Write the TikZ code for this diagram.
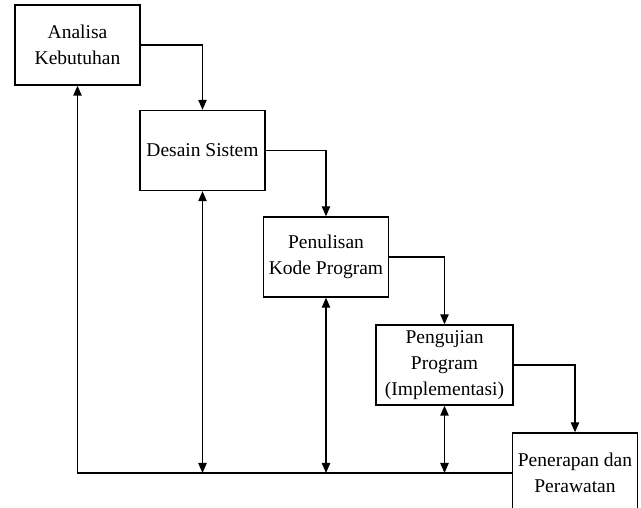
\documentclass[tikz,border=0pt]{standalone}
\usepackage{fontspec}
\setmainfont{Liberation Serif}
\usetikzlibrary{arrows.meta,positioning,calc}

\begin{document}
\begin{tikzpicture}[x=0.6pt, y=-0.6pt, line width=0.8pt,
  tahap/.style={draw, inner sep=1pt, minimum width=75pt, minimum height=48pt,
    align=center, font=\fontsize{11.7}{15.5}\selectfont},
  panah/.style={-{Triangle[length=6pt,width=5pt]}},
  duapanah/.style={{Triangle[length=6pt,width=5pt]}-{Triangle[length=6pt,width=5pt]}}]
  \clip (0,0) rectangle (641,508);
  % tahapan waterfall
  \node[tahap] (analisa) at (77.5,45) {Analisa\\Kebutuhan};
  \node[tahap] (desain) at (202.5,150.5) {Desain Sistem};
  \node[tahap] (kode) at (326,257) {Penulisan\\Kode Program};
  \node[tahap, minimum width=82.2pt] (uji) at (444.5,365) {Pengujian\\Program\\(Implementasi)};
  \node[tahap] (rawat) at (575,473) {Penerapan dan\\Perawatan};
  % alur maju
  \draw[panah] (analisa.east) -| (desain.north);
  \draw[panah] (desain.east) -| (kode.north);
  \draw[panah] (kode.east) -| (uji.north);
  \draw[panah] (uji.east) -| (rawat.north);
  % alur balik
  \draw[panah] (rawat.west) -- (analisa |- rawat.west) -- (analisa.south);
  \draw[duapanah] (desain.south) -- (desain |- rawat.west);
  \draw[duapanah] (kode.south) -- (kode |- rawat.west);
  \draw[duapanah] (uji.south) -- (uji |- rawat.west);
\end{tikzpicture}
\end{document}
